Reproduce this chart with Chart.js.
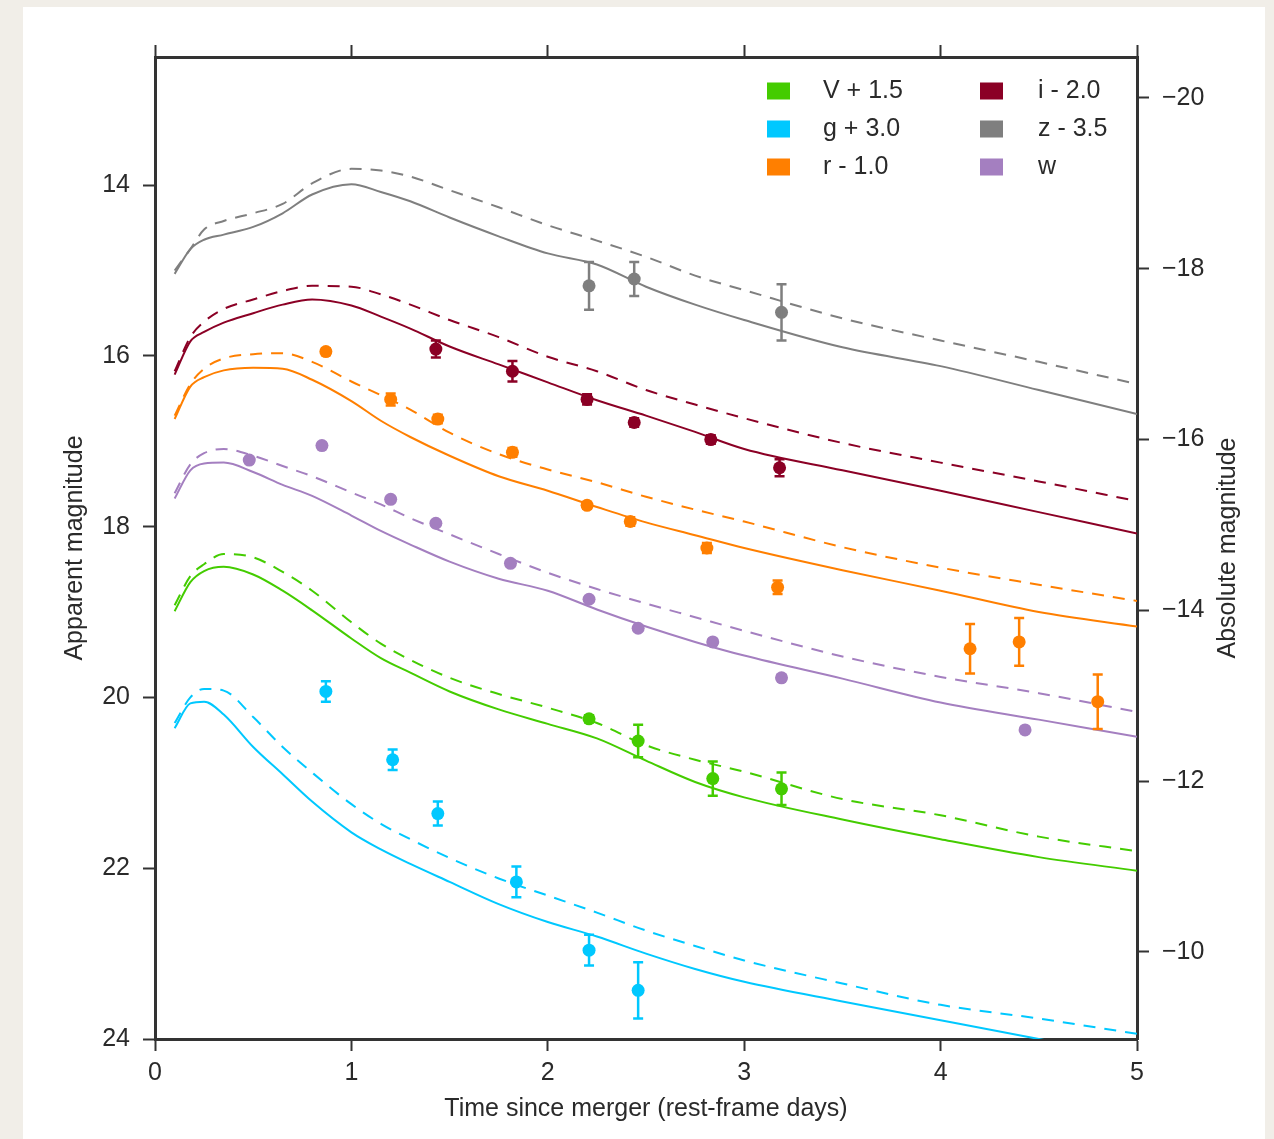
<!DOCTYPE html>
<html>
<head>
<meta charset="utf-8">
<script src="https://cdn.jsdelivr.net/npm/chart.js@4.4.1/dist/chart.umd.min.js"></script>
<style>
  html, body { margin: 0; padding: 0; background: #f1eee8; }
  body { width: 1274px; height: 1139px; position: relative; overflow: hidden; }
  #panel { position: absolute; left: 23px; top: 7px; width: 1242px; height: 1132px; background: #ffffff; }
  #wrap { position: absolute; left: 0; top: 0; width: 1274px; height: 1139px; }
</style>
</head>
<body>
<div id="panel"></div>
<div id="wrap"><canvas id="c" width="1274" height="1139"></canvas></div>
<script>
// ---- axis ticks ----
const xTicks = [0, 1, 2, 3, 4, 5];
const yTicks = [14, 16, 18, 20, 22, 24];
const absTicks = [-20, -18, -16, -14, -12, -10];
const distanceModulus = 32.98;

// ---- band labels and colours ----
const legendLabels = ['V + 1.5', 'g + 3.0', 'r - 1.0', 'i - 2.0', 'z - 3.5', 'w'];
const bandColors = ['#44cc00', '#00c8ff', '#ff7f00', '#8b0025', '#7f7f7f', '#a47fc0'];

// ---- model light curves (rest-frame days, offset magnitudes) ----
const modelTime = [0.1, 0.18, 0.25, 0.35, 0.5, 0.65, 0.8, 1.0, 1.15, 1.3, 1.5, 1.75, 2.0, 2.25, 2.5, 2.75, 3.0, 3.5, 4.0, 4.5, 5.0];
const vSolid  = [18.99, 18.65, 18.52, 18.47, 18.56, 18.75, 18.98, 19.31, 19.54, 19.71, 19.93, 20.14, 20.31, 20.48, 20.74, 20.99, 21.17, 21.43, 21.66, 21.87, 22.03];
const vDashed = [18.92, 18.58, 18.44, 18.32, 18.36, 18.53, 18.75, 19.12, 19.37, 19.56, 19.77, 19.96, 20.12, 20.30, 20.56, 20.73, 20.87, 21.19, 21.38, 21.63, 21.80];
const gSolid  = [20.36, 20.07, 20.05, 20.20, 20.58, 20.90, 21.22, 21.58, 21.78, 21.95, 22.16, 22.42, 22.63, 22.80, 23.00, 23.18, 23.33, 23.56, 23.78, 24.00, 24.22];
const gDashed = [20.30, 20.00, 19.90, 19.92, 20.23, 20.58, 20.88, 21.25, 21.48, 21.66, 21.88, 22.12, 22.32, 22.52, 22.73, 22.91, 23.08, 23.35, 23.60, 23.76, 23.94];
const rSolid  = [16.74, 16.36, 16.25, 16.17, 16.14, 16.15, 16.28, 16.53, 16.76, 16.95, 17.17, 17.41, 17.58, 17.77, 17.95, 18.10, 18.25, 18.51, 18.75, 19.00, 19.17];
const rDashed = [16.70, 16.33, 16.15, 16.03, 15.98, 15.97, 16.07, 16.30, 16.46, 16.63, 16.90, 17.15, 17.33, 17.48, 17.65, 17.80, 17.94, 18.24, 18.48, 18.68, 18.87];
const iSolid  = [16.22, 15.83, 15.72, 15.61, 15.50, 15.40, 15.34, 15.41, 15.54, 15.68, 15.89, 16.10, 16.31, 16.52, 16.70, 16.89, 17.09, 17.34, 17.58, 17.83, 18.08];
const iDashed = [16.18, 15.78, 15.60, 15.45, 15.34, 15.24, 15.18, 15.19, 15.28, 15.40, 15.58, 15.78, 16.01, 16.18, 16.40, 16.57, 16.73, 17.02, 17.25, 17.47, 17.70];
const zSolid  = [15.04, 14.75, 14.64, 14.58, 14.49, 14.33, 14.11, 13.99, 14.08, 14.19, 14.38, 14.60, 14.80, 14.93, 15.19, 15.40, 15.58, 15.90, 16.12, 16.40, 16.68];
const zDashed = [15.00, 14.75, 14.52, 14.42, 14.33, 14.22, 13.98, 13.81, 13.83, 13.90, 14.06, 14.26, 14.47, 14.65, 14.84, 15.06, 15.23, 15.56, 15.82, 16.07, 16.33];
const wSolid  = [17.67, 17.34, 17.26, 17.25, 17.36, 17.51, 17.64, 17.87, 18.05, 18.21, 18.41, 18.61, 18.75, 18.97, 19.17, 19.35, 19.51, 19.78, 20.06, 20.26, 20.46];
const wDashed = [17.61, 17.27, 17.14, 17.09, 17.17, 17.29, 17.41, 17.60, 17.74, 17.90, 18.09, 18.32, 18.54, 18.73, 18.90, 19.06, 19.22, 19.52, 19.76, 19.95, 20.17];

// ---- photometry (time, magnitude, 1-sigma error) ----
const vTime = [2.21, 2.46, 2.84, 3.19];
const vMag  = [20.25, 20.51, 20.95, 21.07];
const vErr  = [0.04, 0.19, 0.20, 0.19];

const gTime = [0.87, 1.21, 1.44, 1.84, 2.21, 2.46];
const gMag  = [19.93, 20.73, 21.36, 22.16, 22.96, 23.43];
const gErr  = [0.12, 0.12, 0.14, 0.18, 0.18, 0.33];

const rTime = [0.87, 1.20, 1.44, 1.82, 2.20, 2.42, 2.81, 3.17, 4.15, 4.40, 4.80];
const rMag  = [15.95, 16.51, 16.74, 17.13, 17.75, 17.94, 18.25, 18.71, 19.43, 19.35, 20.05];
const rErr  = [0.04, 0.07, 0.05, 0.05, 0.04, 0.05, 0.06, 0.08, 0.29, 0.28, 0.32];

const iTime = [1.43, 1.82, 2.20, 2.44, 2.83, 3.18];
const iMag  = [15.92, 16.18, 16.51, 16.78, 16.98, 17.31];
const iErr  = [0.10, 0.12, 0.06, 0.05, 0.05, 0.10];

const zTime = [2.21, 2.44, 3.19];
const zMag  = [15.18, 15.10, 15.49];
const zErr  = [0.28, 0.20, 0.33];

const wTime = [0.48, 0.85, 1.20, 1.43, 1.81, 2.21, 2.46, 2.84, 3.19, 4.43];
const wMag  = [17.22, 17.05, 17.68, 17.96, 18.43, 18.85, 19.19, 19.35, 19.77, 20.38];
const wErr  = [0.03, 0.03, 0.03, 0.03, 0.03, 0.03, 0.03, 0.03, 0.03, 0.03];

// ---- build datasets ----
const pairs = (xs, ys) => xs.map((x, k) => ({ x: x, y: ys[k] }));

const models = [
  [vSolid, vDashed], [gSolid, gDashed], [rSolid, rDashed],
  [iSolid, iDashed], [zSolid, zDashed], [wSolid, wDashed]
];
const observations = [
  [vTime, vMag, vErr], [gTime, gMag, gErr], [rTime, rMag, rErr],
  [iTime, iMag, iErr], [zTime, zMag, zErr], [wTime, wMag, wErr]
];

const datasets = [];
models.forEach((m, b) => {
  [0, 1].forEach(k => {
    datasets.push({
      type: 'line',
      label: legendLabels[b] + (k ? ' model B' : ' model A'),
      data: pairs(modelTime, m[k]),
      borderColor: bandColors[b],
      borderWidth: 2,
      borderDash: k ? [12, 9] : [],
      pointRadius: 0,
      fill: false,
      cubicInterpolationMode: 'monotone',
      xAxisID: 'x', yAxisID: 'y',
      order: 2
    });
  });
});
observations.forEach((o, b) => {
  datasets.push({
    type: 'scatter',
    label: legendLabels[b],
    data: pairs(o[0], o[1]),
    errors: o[2],
    backgroundColor: bandColors[b],
    borderWidth: 0,
    pointRadius: 6.5,
    pointHoverRadius: 6.5,
    xAxisID: 'x', yAxisID: 'y',
    order: 1
  });
});

const fontFamily = '"Liberation Sans", Arial, sans-serif';
const font = { family: fontFamily, size: 25 };
const axisColor = '#333333';
const textColor = '#2a2a2a';

// vertical error bars with caps
const errorBars = {
  id: 'errorBars',
  afterDatasetsDraw(chart) {
    const ctx = chart.ctx;
    const ys = chart.scales.y;
    chart.data.datasets.forEach((ds, i) => {
      if (!ds.errors) return;
      const meta = chart.getDatasetMeta(i);
      ctx.save();
      ctx.strokeStyle = ds.backgroundColor;
      ctx.lineWidth = 2.5;
      meta.data.forEach((pt, j) => {
        const v = ds.data[j].y, e = ds.errors[j];
        const yTop = ys.getPixelForValue(v - e);
        const yBot = ys.getPixelForValue(v + e);
        ctx.beginPath();
        ctx.moveTo(pt.x, yTop); ctx.lineTo(pt.x, yBot);
        ctx.moveTo(pt.x - 5, yTop); ctx.lineTo(pt.x + 5, yTop);
        ctx.moveTo(pt.x - 5, yBot); ctx.lineTo(pt.x + 5, yBot);
        ctx.stroke();
      });
      ctx.restore();
    });
  }
};

// two-column key in the upper right of the plot, plus the right-hand axis title
const bandKey = {
  id: 'bandKey',
  afterDraw(chart) {
    const ctx = chart.ctx;
    ctx.save();
    ctx.font = '25px ' + fontFamily;
    ctx.textBaseline = 'middle';
    ctx.textAlign = 'left';
    legendLabels.forEach((lab, k) => {
      const col = Math.floor(k / 3), row = k % 3;
      const sx = col ? 980 : 767;
      const tx = col ? 1038 : 823;
      const cy = 91 + row * 38;
      ctx.fillStyle = bandColors[k];
      ctx.fillRect(sx, cy - 8.5, 23, 17);
      ctx.fillStyle = textColor;
      ctx.fillText(lab, tx, cy);
    });
    // right axis title, reading bottom to top like the left one
    const area = chart.chartArea;
    ctx.translate(1228, (area.top + area.bottom) / 2);
    ctx.rotate(-Math.PI / 2);
    ctx.textAlign = 'center';
    ctx.fillText('Absolute magnitude', 0, 0);
    ctx.restore();
  }
};

const gridCommon = { drawOnChartArea: false, drawTicks: true, tickLength: 12, tickWidth: 2, tickColor: axisColor };
const borderCommon = { display: true, color: axisColor, width: 3 };

new Chart(document.getElementById('c'), {
  data: { datasets: datasets },
  options: {
    responsive: false,
    animation: false,
    layout: { padding: 0 },
    plugins: { legend: { display: false }, tooltip: { enabled: false } },
    scales: {
      x: {
        type: 'linear', position: 'bottom', min: 0, max: 5,
        afterBuildTicks: s => { s.ticks = xTicks.map(v => ({ value: v })); },
        afterFit: s => { s.height = 100; },
        border: borderCommon, grid: gridCommon,
        ticks: { autoSkip: false, padding: 7, color: textColor, font: font, maxRotation: 0 },
        title: { display: true, text: 'Time since merger (rest-frame days)', color: textColor, font: font, padding: { top: 0, bottom: 15 } }
      },
      xTop: {
        type: 'linear', position: 'top', min: 0, max: 5,
        afterBuildTicks: s => { s.ticks = xTicks.map(v => ({ value: v })); },
        afterFit: s => { s.height = 57; },
        border: borderCommon, grid: gridCommon,
        ticks: { display: false }
      },
      y: {
        type: 'linear', position: 'left', reverse: true, min: 12.5, max: 24,
        afterBuildTicks: s => { s.ticks = yTicks.map(v => ({ value: v })); },
        afterFit: s => { s.width = 155; },
        border: borderCommon, grid: gridCommon,
        ticks: { autoSkip: false, padding: 13, color: textColor, font: font },
        title: { display: true, text: 'Apparent magnitude', color: textColor, font: font, padding: { top: 60, bottom: 0 } }
      },
      yAbs: {
        type: 'linear', position: 'right', reverse: true,
        min: 12.5 - distanceModulus, max: 24 - distanceModulus,
        afterBuildTicks: s => { s.ticks = absTicks.map(v => ({ value: v })); },
        afterFit: s => { s.width = 137; },
        border: borderCommon, grid: gridCommon,
        ticks: { autoSkip: false, padding: 13, color: textColor, font: font,
                 callback: v => '\u2212' + Math.abs(v) }
      }
    }
  },
  plugins: [errorBars, bandKey]
});
</script>
</body>
</html>
